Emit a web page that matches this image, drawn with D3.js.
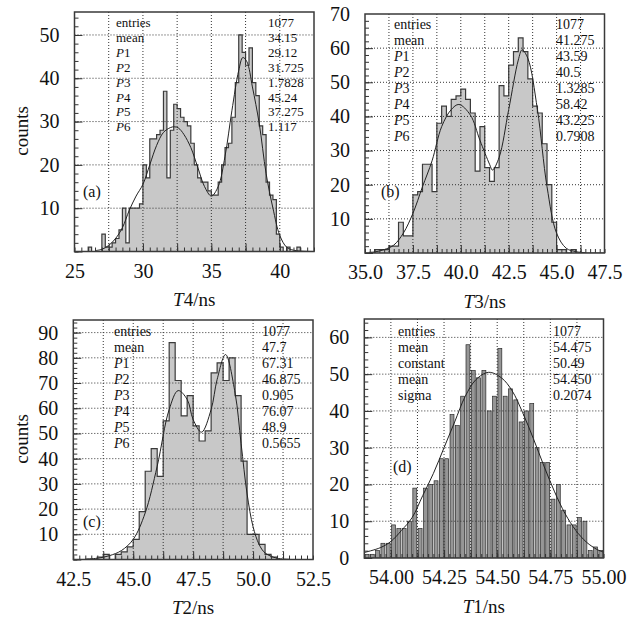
<!DOCTYPE html>
<html>
<head>
<meta charset="utf-8">
<script src="https://cdn.jsdelivr.net/npm/d3@7"></script>
<style>
  body { margin: 0; background: #fff; }
  svg { display: block; }
  text { font-family: "Liberation Serif", "Times New Roman", serif; fill: #111; }
</style>
</head>
<body>
<svg id="chart" width="631" height="618"></svg>
<script>
// ---- histogram counts ----
// (a) T4, 0.25 ns bins starting at 25.0
const binsA = [0,0,0,0, 1,0,0,0, 4,1,1,2, 3,5,10,2, 10,10,10,11, 20,17,26,26,
               27,28,37,17, 28,34,33,31, 30,29,25,20, 17,16,16,14, 13,13,16,20,
               24,25,31,39, 50,46,43,47, 39,36,29,27, 16,13,12,4, 1,0,1,0,
               0,1,0,0, 0,0];
// (b) T3, 0.25 ns bins starting at 35.0
const binsB = [0,0,1,1, 1,2,2,9, 5,5,17,18, 26,26,18,38, 43,40,45,46, 48,45,41,24,
               37,25,21,25, 49,46,55,59, 63,59,51,43, 41,32,20,9, 1,1,0,1,
               0,0,0,0, 0,0];
// (c) T2, 0.25 ns bins starting at 42.5
const binsC = [0,0,0,0, 1,2,0,2, 3,5,8,19, 35,44,33,55, 86,71,57,65, 53,47,51,74,
               78,71,80,65, 39,10,10,6, 2,1,0,0, 0,0,0,0];
// (d) T1, 0.025 ns bins starting at 53.875
const binsD = [1,1,2,4,4, 9,8,8,10,19, 8,19,20,21,27, 27,39,36,44,58, 51,49,51,40,44,
               57,44,46,43,37, 40,42,30,26,26, 16,20,13,9,9, 11,10,2,3,2];

// ---- fitted curves, sampled from the figure ----
const fitAx = [26.5,27,27.5,28,28.5,29,29.5,30,30.5,31,31.5,32,32.3,32.6,33,33.5,34,34.5,35,35.5,36,36.5,37,37.3,37.6,38,38.5,39,39.5,40,40.5,41,41.5,42.5];
const fitAy = [0.2,0.5,1.4,3,5.5,9.5,12.8,15.5,20,24.5,27.5,28.6,28.8,28.5,27,24,19.5,15,12.8,15,22,32.5,41.8,44.8,43.8,38,29.5,18,10,3.7,1,0.3,0.1,0];
const fitBx = [35.2,35.5,36,36.5,37,37.5,38,38.5,39,39.5,39.9,40.5,41,41.5,41.65,42,42.5,43,43.2,43.5,44,44.5,45,45.5,46,46.5];
const fitBy = [0.2,0.3,1,2.3,5.8,11.6,19.4,27,37,42,43.5,40.4,33,26,24.3,28,42,56.5,59.5,57,42,19.4,5.8,1.4,0.4,0.1];
const fitCx = [43,43.5,44,44.5,45,45.5,46,46.5,46.875,47.25,47.5,47.85,48.25,48.5,48.85,49.25,49.5,49.75,50,50.25,50.5,51,51.5];
const fitCy = [0.2,0.5,1.5,3.5,8,18.5,37,59.5,67,63.5,55.5,50.5,59.5,71.4,81.3,66,46,26,13,6,2.6,0.5,0.1];
const fitDx = [53.875,53.95,54.0,54.05,54.1,54.15,54.2,54.25,54.3,54.35,54.4,54.46,54.52,54.57,54.62,54.67,54.72,54.77,54.82,54.87,54.92,54.97,55.0];
const fitDy = [1.5,2.8,4.5,7.5,11,17,23,30,37,44,48.5,50.5,49,45.5,39.5,32.5,25,18,12,7.5,4.3,2.3,1.6];

// ---- tick labels ----
const xLabelsA = [25, 30, 35, 40];
const xLabelsB = [35, 37.5, 40, 42.5, 45, 47.5];
const xLabelsC = [42.5, 45, 47.5, 50, 52.5];
const xLabelsD = [54, 54.25, 54.5, 54.75, 55];
const yLabelsA = [10, 20, 30, 40, 50];
const yLabelsB = [10, 20, 30, 40, 50, 60, 70];
const yLabelsC = [10, 20, 30, 40, 50, 60, 70, 80, 90];
const yLabelsD = [0, 10, 20, 30, 40, 50, 60];

// ---- statistics boxes ----
const statNamesA = ["entries","mean","P1","P2","P3","P4","P5","P6"];
const statValsA  = ["1077","34.15","29.12","31.725","1.7828","45.24","37.275","1.117"];
const statNamesB = ["entries","mean","P1","P2","P3","P4","P5","P6"];
const statValsB  = ["1077","41.275","43.59","40.5","1.3285","58.42","43.225","0.7908"];
const statNamesC = ["entries","mean","P1","P2","P3","P4","P5","P6"];
const statValsC  = ["1077","47.7","67.31","46.875","0.905","76.07","48.9","0.5655"];
const statNamesD = ["entries","mean","constant","mean","sigma"];
const statValsD  = ["1077","54.475","50.49","54.450","0.2074"];

const svg = d3.select("#chart");

const panels = [
  { id: "a", tag: "(a)", title: "4", bins: binsA, x0: 25, bw: 0.25, bars: false,
    xDom: [25, 42.5], yMax: 55.3, box: [74.5, 12, 314, 251.5],
    grid: 2.5, gridStart: 27.5, minorX: 0.5, fmt: d3.format("d"),
    xLabels: xLabelsA, yLabels: yLabelsA, fitX: fitAx, fitY: fitAy,
    names: statNamesA, vals: statValsA, statX: [116, 268], statY: 27, statDy: 14.9, statFs: 13,
    tagPos: [83, 197] },
  { id: "b", tag: "(b)", title: "3", bins: binsB, x0: 35, bw: 0.25, bars: false,
    xDom: [35, 47.5], yMax: 70, box: [365, 14, 604.5, 253],
    grid: 1.25, gridStart: 36.25, minorX: 0.25, fmt: d3.format(".1f"),
    xLabels: xLabelsB, yLabels: yLabelsB, fitX: fitBx, fitY: fitBy,
    names: statNamesB, vals: statValsB, statX: [394, 556], statY: 29.3, statDy: 16, statFs: 14,
    tagPos: [381, 197] },
  { id: "c", tag: "(c)", title: "2", bins: binsC, x0: 42.5, bw: 0.25, bars: false,
    xDom: [42.5, 52.5], yMax: 95, box: [73.3, 320, 313, 559.5],
    grid: 1.25, gridStart: 43.75, minorX: 0.25, fmt: d3.format(".1f"),
    xLabels: xLabelsC, yLabels: yLabelsC, fitX: fitCx, fitY: fitCy,
    names: statNamesC, vals: statValsC, statX: [114, 262], statY: 336, statDy: 16, statFs: 14,
    tagPos: [83, 527] },
  { id: "d", tag: "(d)", title: "1", bins: binsD, x0: 53.875, bw: 0.025, bars: true,
    xDom: [53.875, 55], yMax: 65, box: [364.3, 319, 603.5, 558],
    grid: 0.125, gridStart: 54.0, minorX: 0.025, fmt: d3.format(".2f"),
    xLabels: xLabelsD, yLabels: yLabelsD, fitX: fitDx, fitY: fitDy,
    names: statNamesD, vals: statValsD, statX: [398, 553], statY: 336, statDy: 16, statFs: 14,
    tagPos: [393, 472] }
];

panels.forEach(drawPanel);

function drawPanel(p) {
  const [L, T, R, B] = p.box;
  const x = d3.scaleLinear().domain(p.xDom).range([L, R]);
  const y = d3.scaleLinear().domain([0, p.yMax]).range([B, T]);
  const g = svg.append("g");

  svg.append("clipPath").attr("id", "clip-" + p.id)
    .append("rect").attr("x", L).attr("y", T).attr("width", R - L).attr("height", B - T);
  const plot = g.append("g").attr("clip-path", "url(#clip-" + p.id + ")");

  if (p.bars) {
    plot.selectAll("rect.bar").data(p.bins).join("rect")
      .attr("class", "bar")
      .attr("x", (d, i) => x(p.x0 + i * p.bw) + 0.7)
      .attr("width", (d, i) => x(p.x0 + (i + 1) * p.bw) - x(p.x0 + i * p.bw) - 1.4)
      .attr("y", d => y(d))
      .attr("height", d => y(0) - y(d))
      .attr("fill", "#969696")
      .attr("stroke", "#2a2a2a")
      .attr("stroke-width", 0.7);
  } else {
    const pts = [[p.x0, 0]];
    p.bins.forEach((c, i) => {
      pts.push([p.x0 + i * p.bw, c]);
      pts.push([p.x0 + (i + 1) * p.bw, c]);
    });
    pts.push([p.x0 + p.bins.length * p.bw, 0]);
    plot.append("path").datum(pts)
      .attr("d", d3.line().x(d => x(d[0])).y(d => y(d[1])))
      .attr("fill", "#c8c8c8")
      .attr("stroke", "#3a3a3a")
      .attr("stroke-width", 1.2);
  }

  // fitted curve
  const fit = p.fitX.map((v, i) => [v, p.fitY[i]]);
  plot.append("path").datum(fit)
    .attr("d", d3.line().x(d => x(d[0])).y(d => y(d[1])).curve(d3.curveCatmullRom))
    .attr("fill", "none")
    .attr("stroke", "#222")
    .attr("stroke-width", 1);

  // dotted grid
  const gx = d3.range(p.gridStart, p.xDom[1] - 1e-6, p.grid);
  const gy = p.yLabels.filter(v => v > 0 && y(v) > T + 1);
  plot.selectAll("line.gx").data(gx).join("line")
    .attr("x1", d => x(d)).attr("x2", d => x(d)).attr("y1", T).attr("y2", B)
    .attr("stroke", "#333").attr("stroke-width", 1).attr("stroke-dasharray", "1 2");
  plot.selectAll("line.gy").data(gy).join("line")
    .attr("x1", L).attr("x2", R).attr("y1", d => y(d)).attr("y2", d => y(d))
    .attr("stroke", "#333").attr("stroke-width", 1).attr("stroke-dasharray", "1 2");

  // ticks
  const minorX = d3.range(p.xDom[0], p.xDom[1] + 1e-6, p.minorX);
  const minorY = d3.range(0, p.yMax, 2);
  const majorY = d3.range(0, p.yMax, 10);
  const tickAxis = (axis, tr) => {
    const a = g.append("g").attr("transform", tr).call(axis);
    a.select(".domain").remove();
    a.selectAll("line").attr("stroke", "#333");
    return a;
  };
  tickAxis(d3.axisBottom(x).tickValues(minorX).tickSizeInner(-4).tickSizeOuter(0).tickFormat(""), `translate(0,${B})`);
  tickAxis(d3.axisBottom(x).tickValues(gx).tickSizeInner(-8).tickSizeOuter(0).tickFormat(""), `translate(0,${B})`);
  tickAxis(d3.axisLeft(y).tickValues(minorY).tickSizeInner(-4).tickSizeOuter(0).tickFormat(""), `translate(${L},0)`);
  tickAxis(d3.axisLeft(y).tickValues(majorY).tickSizeInner(-8).tickSizeOuter(0).tickFormat(""), `translate(${L},0)`);

  // tick labels
  const xl = g.append("g").attr("transform", `translate(0,${B})`)
    .call(d3.axisBottom(x).tickValues(p.xLabels).tickSize(0).tickPadding(12).tickFormat(p.fmt));
  xl.select(".domain").remove();
  xl.selectAll("text").attr("font-size", 20).attr("font-family", null).attr("fill", "#111");
  const yl = g.append("g").attr("transform", `translate(${L},0)`)
    .call(d3.axisLeft(y).tickValues(p.yLabels).tickSize(0).tickPadding(15).tickFormat(d3.format("d")));
  yl.select(".domain").remove();
  yl.selectAll("text").attr("font-size", 20).attr("font-family", null).attr("fill", "#111");

  // frame
  g.append("rect").attr("x", L).attr("y", T).attr("width", R - L).attr("height", B - T)
    .attr("fill", "none").attr("stroke", "#3a3a3a").attr("stroke-width", 1.5);

  // axis title
  const t = g.append("text").attr("x", (L + R) / 2).attr("y", B + 54.5)
    .attr("text-anchor", "middle").attr("font-size", 19);
  t.append("tspan").attr("font-style", "italic").text("T");
  t.append("tspan").text(p.title + "/ns");

  // stats
  const st = g.append("g").attr("font-size", p.statFs);
  p.names.forEach((n, i) => {
    const ty = p.statY + i * p.statDy;
    const tx = st.append("text").attr("x", p.statX[0]).attr("y", ty);
    if (/^P\d$/.test(n)) {
      tx.append("tspan").attr("font-style", "italic").text("P");
      tx.append("tspan").text(n.slice(1));
    } else {
      tx.text(n);
    }
    st.append("text").attr("x", p.statX[1]).attr("y", ty).text(p.vals[i]);
  });

  g.append("text").attr("x", p.tagPos[0]).attr("y", p.tagPos[1]).attr("font-size", 16).text(p.tag);
}

// y axis titles
[131, 439].forEach(cy => {
  svg.append("text")
    .attr("transform", `translate(28,${cy}) rotate(-90)`)
    .attr("text-anchor", "middle")
    .attr("font-size", 19)
    .text("counts");
});
</script>
</body>
</html>
